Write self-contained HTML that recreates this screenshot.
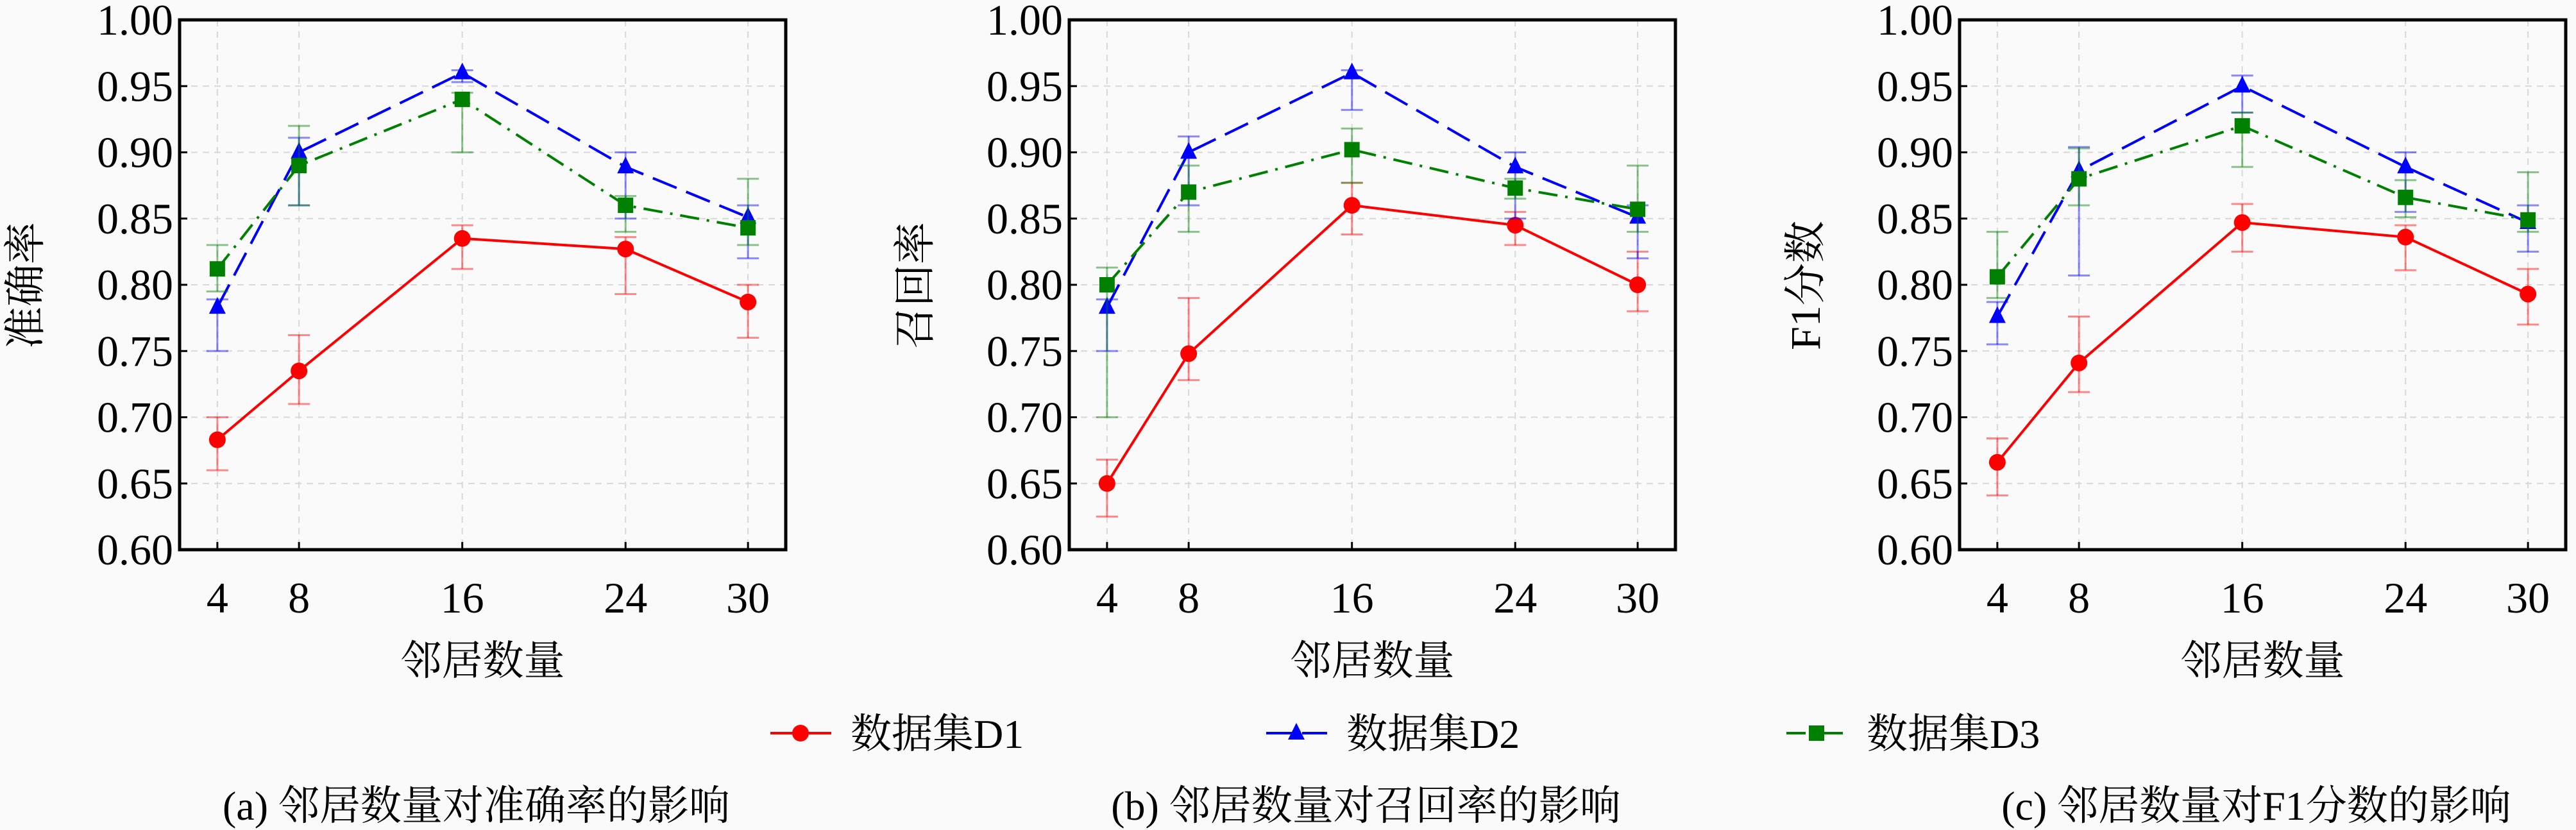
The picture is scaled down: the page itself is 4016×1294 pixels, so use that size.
<!DOCTYPE html>
<html><head><meta charset="utf-8">
<style>
html,body{margin:0;padding:0;background:#fafafa;}
svg{display:block;font-family:"Liberation Serif","Noto Serif CJK SC",serif;}
</style></head>
<body>
<svg id="chart" width="4016" height="1294" viewBox="0 0 4016 1294" xmlns="http://www.w3.org/2000/svg">
<rect width="4016" height="1294" fill="#fafafa"/>
</svg>
<script>
const categories = [4, 8, 16, 24, 30];
const yTicks = [0.60, 0.65, 0.70, 0.75, 0.80, 0.85, 0.90, 0.95, 1.00];
const yTickLabels = ["0.60","0.65","0.70","0.75","0.80","0.85","0.90","0.95","1.00"];
const panelTitles = ["准确率", "召回率", "F1分数"];
const panelCaptions = ["(a) 邻居数量对准确率的影响", "(b) 邻居数量对召回率的影响", "(c) 邻居数量对F1分数的影响"];
const seriesNames = ["数据集D1", "数据集D2", "数据集D3"];

// Accuracy
const accD1 = [0.683, 0.735, 0.835, 0.827, 0.787];
const accD1Hi = [0.700, 0.762, 0.845, 0.836, 0.800];
const accD1Lo = [0.660, 0.710, 0.812, 0.793, 0.760];
const accD2 = [0.783, 0.900, 0.960, 0.889, 0.851];
const accD2Hi = [0.789, 0.911, 0.962, 0.900, 0.860];
const accD2Lo = [0.750, 0.860, 0.953, 0.850, 0.820];
const accD3 = [0.812, 0.890, 0.940, 0.860, 0.843];
const accD3Hi = [0.830, 0.920, 0.945, 0.867, 0.880];
const accD3Lo = [0.795, 0.860, 0.900, 0.840, 0.830];
// Recall
const recD1 = [0.650, 0.748, 0.860, 0.845, 0.800];
const recD1Hi = [0.668, 0.790, 0.877, 0.855, 0.825];
const recD1Lo = [0.625, 0.728, 0.838, 0.830, 0.780];
const recD2 = [0.783, 0.900, 0.960, 0.889, 0.851];
const recD2Hi = [0.789, 0.912, 0.962, 0.900, 0.860];
const recD2Lo = [0.750, 0.860, 0.932, 0.850, 0.820];
const recD3 = [0.800, 0.870, 0.902, 0.873, 0.857];
const recD3Hi = [0.813, 0.890, 0.918, 0.880, 0.890];
const recD3Lo = [0.700, 0.840, 0.877, 0.865, 0.840];
// F1
const f1D1 = [0.666, 0.741, 0.847, 0.836, 0.793];
const f1D1Hi = [0.684, 0.776, 0.861, 0.845, 0.812];
const f1D1Lo = [0.641, 0.719, 0.825, 0.811, 0.770];
const f1D2 = [0.776, 0.886, 0.950, 0.889, 0.847];
const f1D2Hi = [0.787, 0.904, 0.958, 0.900, 0.860];
const f1D2Lo = [0.755, 0.807, 0.930, 0.855, 0.825];
const f1D3 = [0.806, 0.880, 0.920, 0.866, 0.849];
const f1D3Hi = [0.840, 0.903, 0.930, 0.879, 0.885];
const f1D3Lo = [0.790, 0.860, 0.889, 0.851, 0.840];

const panelData = [
  [[accD1,accD1Hi,accD1Lo],[accD2,accD2Hi,accD2Lo],[accD3,accD3Hi,accD3Lo]],
  [[recD1,recD1Hi,recD1Lo],[recD2,recD2Hi,recD2Lo],[recD3,recD3Hi,recD3Lo]],
  [[f1D1,f1D1Hi,f1D1Lo],[f1D2,f1D2Hi,f1D2Lo],[f1D3,f1D3Hi,f1D3Lo]]
];

const NS = "http://www.w3.org/2000/svg";
const svg = document.getElementById("chart");
function mk(tag, attrs, parent){
  const e = document.createElementNS(NS, tag);
  for (const k in attrs) e.setAttribute(k, attrs[k]);
  (parent||svg).appendChild(e);
  return e;
}
const colors = ["#ff0000", "#0000ff", "#008000"];
const dashes = ["", "40,16", "30,12,4,12"];
const panelLefts = [280, 1667, 3055];
const PW = 945, TOP = 31, BOT = 857;
const X0 = 2.15, X1 = 31.85, Y0 = 0.60, Y1 = 1.00;

function drawMarker(g, k, cx, cy){
  let m;
  if (k === 0) m = mk("circle", {cx:cx, cy:cy, r:13, fill:colors[0]}, g);
  else if (k === 1) m = mk("polygon", {points:`${cx},${cy-16} ${cx-13},${cy+10} ${cx+13},${cy+10}`, fill:colors[1]}, g);
  else m = mk("rect", {x:cx-12, y:cy-12, width:24, height:24, fill:colors[2]}, g);
  return m;
}

panelLefts.forEach((L, p) => {
  const xs = v => L + (v - X0) / (X1 - X0) * PW;
  const ys = v => BOT - (v - Y0) / (Y1 - Y0) * (BOT - TOP);
  const g = mk("g", {});
  
  
  const grid = mk("g", {stroke:"#d8d8d8", "stroke-width":2, "stroke-dasharray":"10,8"}, g);
  
  
  yTicks.forEach(t => mk("line", {x1:L, x2:L+PW, y1:ys(t), y2:ys(t)}, grid));
  categories.forEach(c => mk("line", {x1:xs(c), x2:xs(c), y1:TOP, y2:BOT}, grid));
  const ya = mk("g", {}, g);
  
  
  yTicks.forEach((t, i) => {
    mk("line", {x1:L, x2:L+12, y1:ys(t), y2:ys(t), stroke:"#000", "stroke-width":3}, ya);
    const tx = mk("text", {x:L-10, y:ys(t)+23, "text-anchor":"end", "font-size":68, fill:"#000"}, ya);
    tx.textContent = yTickLabels[i];
  });
  const xa = mk("g", {}, g);
  
  
  categories.forEach(c => {
    mk("line", {x1:xs(c), x2:xs(c), y1:BOT, y2:BOT-12, stroke:"#000", "stroke-width":3}, xa);
    const tx = mk("text", {x:xs(c), y:955, "text-anchor":"middle", "font-size":68, fill:"#000"}, xa);
    tx.textContent = c;
  });
  const xt = mk("text", {x:L+PW/2, y:1052, "text-anchor":"middle", "font-size":64, fill:"#000"}, g);
  xt.textContent = "邻居数量";
  
  
  const yt = mk("text", {x:0, y:0, "text-anchor":"middle", "font-size":66, fill:"#000", transform:`translate(${L-218},445) rotate(-90)`}, g);
  yt.textContent = panelTitles[p];
  
  
  panelData[p].forEach((s, k) => {
    const sg = mk("g", {}, g);
    
    
    const [vals, hi, lo] = s;
    vals.forEach((v, i) => {
      const cx = xs(categories[i]);
      const eg = mk("g", {stroke:colors[k], "stroke-opacity":0.45, "stroke-width":3}, sg);
      
      
      mk("line", {x1:cx, x2:cx, y1:ys(hi[i]), y2:ys(lo[i])}, eg);
      mk("line", {x1:cx-17, x2:cx+17, y1:ys(hi[i]), y2:ys(hi[i])}, eg);
      mk("line", {x1:cx-17, x2:cx+17, y1:ys(lo[i]), y2:ys(lo[i])}, eg);
    });
    const pts = vals.map((v, i) => xs(categories[i]) + "," + ys(v)).join(" ");
    const pl = mk("polyline", {points:pts, fill:"none", stroke:colors[k], "stroke-width":4, "stroke-dasharray":dashes[k]}, sg);
    
    
    vals.forEach((v, i) => {
      const m = drawMarker(sg, k, xs(categories[i]), ys(v));
      
      
    });
  });
  const fr = mk("rect", {x:L, y:TOP, width:PW, height:BOT-TOP, fill:"none", stroke:"#000", "stroke-width":5}, g);
  
  
  const cap = mk("text", {x:L+PW/2-10, y:1278, "text-anchor":"middle", "font-size":64, fill:"#000"}, g);
  cap.textContent = panelCaptions[p];
  
  
});

const legX = [1201, 1974, 2785];
const lg = mk("g", {});


legX.forEach((x, k) => {
  const eg = mk("g", {}, lg);
  
  
  mk("line", {x1:x, x2:x+95, y1:1143, y2:1143, stroke:colors[k], "stroke-width":4, "stroke-dasharray":dashes[k]}, eg);
  drawMarker(eg, k, x+47, 1143);
  const t = mk("text", {x:x+125, y:1166, "font-size":64, fill:"#000"}, eg);
  t.textContent = seriesNames[k];
});
</script>
</body></html>
